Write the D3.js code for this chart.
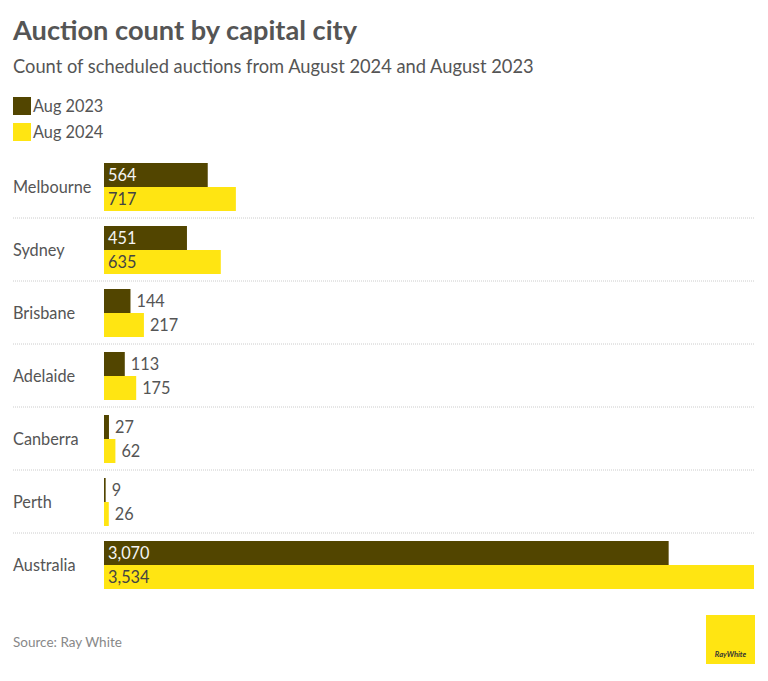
<!DOCTYPE html>
<html><head><meta charset="utf-8">
<script src="https://cdn.jsdelivr.net/npm/d3@7"></script>
<style>body{margin:0;background:#fff;font-family:Lato,"Open Sans",sans-serif;}</style>
</head><body>
<svg id="chart" width="768" height="681"></svg>
<script>
const categories = ["Melbourne","Sydney","Brisbane","Adelaide","Canberra","Perth","Australia"];
const aug2023 = [564,451,144,113,27,9,3070];
const aug2024 = [717,635,217,175,62,26,3534];
const seriesNames = ["Aug 2023","Aug 2024"];
const colors = ["#524500","#FFE512"];

const svg = d3.select("#chart");
const textCol = "#555";

svg.append("text").attr("x",13).attr("y",40).attr("font-size",27.2).attr("font-weight",700)
  .attr("fill",textCol).text("Auction count by capital city");
svg.append("text").attr("x",13).attr("y",73).attr("font-size",18.3)
  .attr("fill",textCol).text("Count of scheduled auctions from August 2024 and August 2023");

// legend
seriesNames.forEach((n,i)=>{
  const g = svg.append("g").attr("transform",`translate(13,${97+i*26})`);
  g.append("rect").attr("width",18).attr("height",18).attr("fill",colors[i]);
  g.append("text").attr("x",20).attr("y",15).attr("font-size",16.3).attr("fill",textCol).text(n);
});

const x = d3.scaleLinear().domain([0,3534]).range([104,754]);
const y = d3.scaleBand().domain(categories).range([155,596]).paddingInner(0).paddingOuter(0);
const sub = d3.scaleBand().domain([0,1]).range([8,56]);

const fmt = d3.format(",");
categories.forEach((c,i)=>{
  const g = svg.append("g").attr("transform",`translate(0,${y(c)})`);
  g.append("text").attr("x",13).attr("y",sub.range()[0]+24+6).attr("font-size",16.3)
    .attr("fill",textCol).text(c);
  [aug2023[i],aug2024[i]].forEach((v,k)=>{
    const w = x(v)-x(0);
    g.append("rect").attr("x",x(0)).attr("y",sub(k)).attr("width",w)
      .attr("height",sub.bandwidth()).attr("fill",colors[k]);
    const label = fmt(v);
    const inside = w > 60;
    g.append("text")
      .attr("x", inside ? x(0)+4 : x(v)+6)
      .attr("y", sub(k)+sub.bandwidth()/2+6)
      .attr("font-size",16.3)
      .attr("fill", inside ? (k===0 ? "#f4f4f4" : "#444") : textCol)
      .text(label);
  });
  if(i < categories.length-1){
    g.append("line").attr("x1",13).attr("x2",754)
      .attr("y1",y.bandwidth()).attr("y2",y.bandwidth())
      .attr("stroke","#ccc").attr("stroke-width",1).attr("stroke-dasharray","1,1");
  }
});

svg.append("text").attr("x",13).attr("y",647).attr("font-size",13.5)
  .attr("fill","#888").text("Source: Ray White");

// logo
const logo = svg.append("g").attr("transform","translate(706,615)");
logo.append("rect").attr("width",49).attr("height",49).attr("fill","#FFE512");
logo.append("text").attr("x",24.5).attr("y",42).attr("text-anchor","middle")
  .attr("font-size",7.5).attr("font-weight",700).attr("font-style","italic")
  .attr("fill","#333").text("RayWhite");
</script>
</body></html>
